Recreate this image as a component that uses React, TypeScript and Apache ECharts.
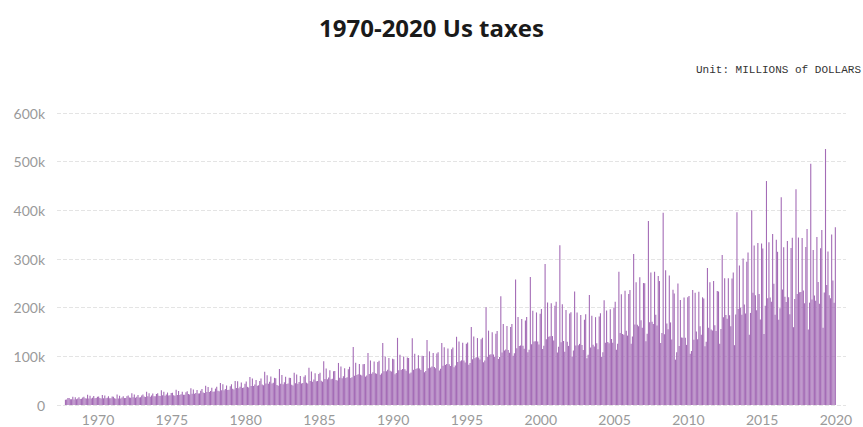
import React, { useEffect, useRef } from "react";
import * as echarts from "echarts";

// Monthly US federal receipts, in thousands of millions of dollars ("k" on the axis)
const START_YEAR = 1967;
const START_MONTH = 10; // October 1967

const receipts1960s = [
  10.8, 11.5, 14.2,
  14.5, 12.0, 11.8, 17.2, 11.5, 16.0, 11.9, 13.2, 15.8, 12.4, 12.6, 15.4,
  16.9, 13.9, 13.4, 21.3, 13.6, 19.2, 13.5, 15.0, 18.4, 13.8, 14.2, 17.1,
];
const receipts1970s = [
  17.6, 14.2, 13.1, 20.6, 13.9, 19.5, 13.8, 14.9, 18.0, 13.7, 14.0, 17.4,
  17.2, 14.1, 12.9, 21.4, 13.5, 19.1, 13.6, 15.3, 18.1, 14.2, 14.6, 17.9,
  19.4, 15.2, 14.8, 24.3, 15.7, 21.6, 14.9, 17.1, 20.4, 15.5, 16.0, 19.7,
  21.8, 17.3, 16.5, 27.2, 17.9, 24.4, 17.1, 19.6, 23.5, 17.8, 18.2, 22.4,
  24.1, 19.0, 18.3, 30.1, 19.8, 27.0, 19.2, 21.4, 25.6, 19.5, 20.1, 24.6,
  25.2, 19.8, 18.9, 31.4, 20.3, 28.6, 20.5, 22.1, 27.3, 21.0, 21.2, 26.0,
  28.5, 22.4, 21.5, 34.6, 23.1, 32.0, 23.0, 24.8, 30.6, 23.4, 23.9, 29.2,
  32.8, 25.6, 24.9, 39.4, 26.8, 37.1, 26.5, 28.9, 35.2, 27.0, 27.6, 33.7,
  37.5, 29.1, 28.0, 45.3, 30.4, 42.6, 30.2, 32.9, 40.1, 30.6, 31.4, 38.5,
  42.6, 33.4, 32.1, 49.2, 35.0, 48.7, 34.4, 37.5, 46.3, 35.1, 35.8, 43.9,
];
const receipts1980s = [
  48.1, 37.3, 36.2, 57.4, 39.0, 54.6, 38.8, 42.1, 51.5, 39.6, 40.5, 49.3,
  54.2, 42.0, 40.8, 68.1, 44.3, 61.0, 43.5, 47.6, 58.4, 44.1, 45.5, 55.8,
  55.0, 41.2, 39.5, 73.8, 43.6, 61.5, 42.8, 46.9, 57.9, 43.0, 44.2, 56.1,
  55.6, 41.8, 40.1, 66.2, 44.5, 62.8, 43.9, 47.5, 59.6, 44.0, 45.3, 57.9,
  61.0, 45.9, 44.2, 76.3, 49.1, 68.9, 48.0, 52.2, 65.2, 48.6, 49.4, 63.5,
  66.5, 49.6, 47.9, 90.1, 53.5, 74.8, 52.7, 56.3, 71.4, 53.0, 54.1, 69.2,
  69.8, 51.2, 50.4, 86.4, 55.9, 79.3, 55.0, 59.1, 75.6, 55.6, 56.8, 73.5,
  78.5, 55.4, 57.0, 119.2, 60.1, 86.7, 61.5, 63.4, 84.3, 62.0, 60.8, 83.6,
  84.2, 58.3, 60.6, 107.1, 63.9, 91.5, 64.0, 67.2, 89.6, 65.1, 64.3, 88.4,
  91.0, 62.4, 64.9, 127.3, 69.5, 99.8, 69.2, 72.6, 96.4, 70.3, 68.7, 95.1,
];
const receipts1990s = [
  94.2, 63.1, 66.0, 138.0, 71.2, 103.5, 72.0, 74.1, 99.8, 73.5, 70.4, 97.6,
  96.8, 64.5, 66.7, 137.2, 72.3, 105.1, 73.8, 75.4, 102.2, 74.9, 72.0, 101.3,
  100.5, 67.3, 69.8, 133.4, 75.6, 110.2, 77.1, 79.0, 106.8, 78.2, 75.5, 105.9,
  108.3, 71.0, 74.6, 127.5, 80.9, 118.6, 82.3, 84.4, 116.2, 83.5, 80.1, 114.7,
  118.1, 77.5, 81.0, 140.2, 88.1, 130.5, 89.7, 91.8, 127.9, 91.2, 87.3, 125.6,
  128.4, 82.9, 86.5, 160.3, 94.0, 140.6, 96.2, 98.1, 137.5, 97.8, 93.4, 135.0,
  138.2, 87.6, 91.3, 201.0, 99.4, 152.8, 103.1, 104.5, 149.3, 104.0, 99.2, 146.6,
  152.1, 94.7, 98.5, 223.6, 107.9, 166.3, 112.0, 113.8, 162.5, 113.1, 107.4, 160.2,
  166.4, 101.3, 106.2, 258.0, 116.5, 180.7, 121.4, 122.3, 176.9, 122.0, 115.8, 173.5,
  181.0, 108.5, 113.4, 263.1, 124.7, 193.5, 130.6, 130.9, 190.2, 130.3, 124.1, 187.4,
];
const receipts2000s = [
  197.3, 115.2, 121.8, 289.6, 134.9, 210.5, 140.3, 141.2, 209.0, 141.6, 132.5, 203.8,
  212.4, 108.0, 119.6, 328.0, 129.1, 207.2, 131.5, 109.6, 195.3, 130.1, 121.4, 187.9,
  190.6, 99.8, 112.1, 233.4, 122.3, 190.1, 123.0, 125.6, 185.0, 123.5, 112.9, 175.2,
  186.3, 96.1, 103.4, 226.0, 118.4, 183.6, 123.7, 120.2, 180.5, 127.0, 114.3, 182.1,
  188.5, 99.2, 108.6, 215.4, 127.8, 194.3, 129.5, 127.1, 196.8, 135.6, 128.0, 200.4,
  212.3, 113.5, 125.9, 273.8, 148.0, 227.5, 146.1, 144.3, 234.6, 152.8, 142.6, 227.9,
  236.4, 126.0, 140.7, 310.2, 165.3, 252.1, 164.8, 161.6, 262.4, 174.2, 158.7, 250.6,
  250.3, 130.9, 146.6, 378.1, 170.2, 272.3, 171.0, 166.5, 273.8, 185.2, 163.5, 264.9,
  254.7, 127.2, 148.1, 395.0, 145.6, 276.9, 167.3, 155.5, 266.0, 169.7, 134.4, 236.8,
  228.9, 93.2, 108.3, 249.7, 121.4, 215.7, 138.6, 138.2, 221.1, 138.3, 123.5, 221.2,
];
const receipts2010s = [
  224.1, 105.4, 110.9, 236.4, 134.3, 230.5, 151.2, 135.2, 232.9, 162.0, 144.6, 221.3,
  218.9, 120.8, 130.1, 281.4, 158.8, 252.3, 155.1, 153.2, 254.8, 163.9, 152.3, 234.5,
  233.2, 126.0, 156.4, 308.1, 180.2, 260.5, 184.9, 177.3, 260.7, 184.3, 161.7, 260.0,
  272.2, 122.9, 185.9, 396.3, 197.4, 286.6, 200.1, 185.4, 301.2, 206.5, 187.9, 294.1,
  313.5, 144.1, 189.2, 400.2, 230.5, 327.6, 225.4, 194.7, 333.1, 228.3, 175.9, 331.6,
  321.8, 145.9, 203.7, 460.2, 219.1, 334.6, 220.7, 212.1, 351.6, 249.3, 185.5, 339.4,
  314.8, 175.3, 198.7, 426.9, 237.3, 324.3, 222.6, 211.5, 336.8, 221.4, 186.4, 322.4,
  343.7, 159.9, 218.0, 443.4, 228.2, 344.1, 231.9, 232.0, 343.1, 235.3, 209.2, 324.9,
  361.7, 155.3, 210.3, 495.5, 217.0, 318.7, 225.1, 214.0, 345.0, 252.7, 208.0, 322.0,
  359.8, 158.9, 231.1, 526.2, 246.6, 315.6, 225.7, 219.1, 350.4, 255.6, 210.0, 365.0,
];

const yearLabels = [1970, 1975, 1980, 1985, 1990, 1995, 2000, 2005, 2010, 2015, 2020];
const yTicks = [0, 100, 200, 300, 400, 500, 600];

const TITLE = "1970-2020 Us taxes";
const UNIT = "Unit: MILLIONS of DOLLARS";

export default function App() {
  const ref = useRef<HTMLDivElement>(null);

  useEffect(() => {
    if (!ref.current) return;
    const chart = echarts.init(ref.current, undefined, { renderer: "svg" });

    const all = [
      ...receipts1960s,
      ...receipts1970s,
      ...receipts1980s,
      ...receipts1990s,
      ...receipts2000s,
      ...receipts2010s,
    ];
    const data = all.map((v, i) => [START_YEAR + (START_MONTH - 1 + i + 0.5) / 12, v]);

    chart.setOption({
      animation: false,
      title: {
        text: TITLE,
        left: "center",
        top: 10,
        textStyle: {
          fontFamily: "Open Sans",
          fontWeight: "bold",
          fontSize: 24,
          color: "#1a1a1a",
        },
      },
      graphic: [
        {
          type: "text",
          right: 2,
          top: 64,
          style: {
            text: UNIT,
            font: '11px "Liberation Mono"',
            fill: "#333",
          },
        },
      ],
      grid: { left: 57, right: 17, top: 113, bottom: 22 },
      xAxis: {
        type: "value",
        min: 1967.22,
        max: 2020.68,
        axisLine: { show: false },
        axisTick: { show: false },
        splitLine: { show: false },
        axisLabel: {
          customValues: yearLabels,
          formatter: (v: number) => String(Math.round(v)),
          color: "#9a9a9a",
          fontFamily: "Lato",
          fontSize: 14,
          margin: 7,
        },
      },
      yAxis: {
        type: "value",
        min: yTicks[0],
        max: yTicks[yTicks.length - 1],
        interval: 100,
        axisLine: { show: false },
        axisTick: { show: false },
        splitLine: { lineStyle: { type: "dashed", color: "#e4e4e4" } },
        axisLabel: {
          formatter: (v: number) => (v === 0 ? "0" : v + "k"),
          color: "#9a9a9a",
          fontFamily: "Lato",
          fontSize: 14,
          margin: 12,
        },
      },
      series: [
        {
          type: "bar",
          data,
          barWidth: 1.1,
          itemStyle: { color: "#a46cb6" },
        },
      ],
    });

    return () => chart.dispose();
  }, []);

  return (
    <div
      ref={ref}
      style={{ position: "absolute", left: 0, top: 0, width: 863, height: 427 }}
    />
  );
}
